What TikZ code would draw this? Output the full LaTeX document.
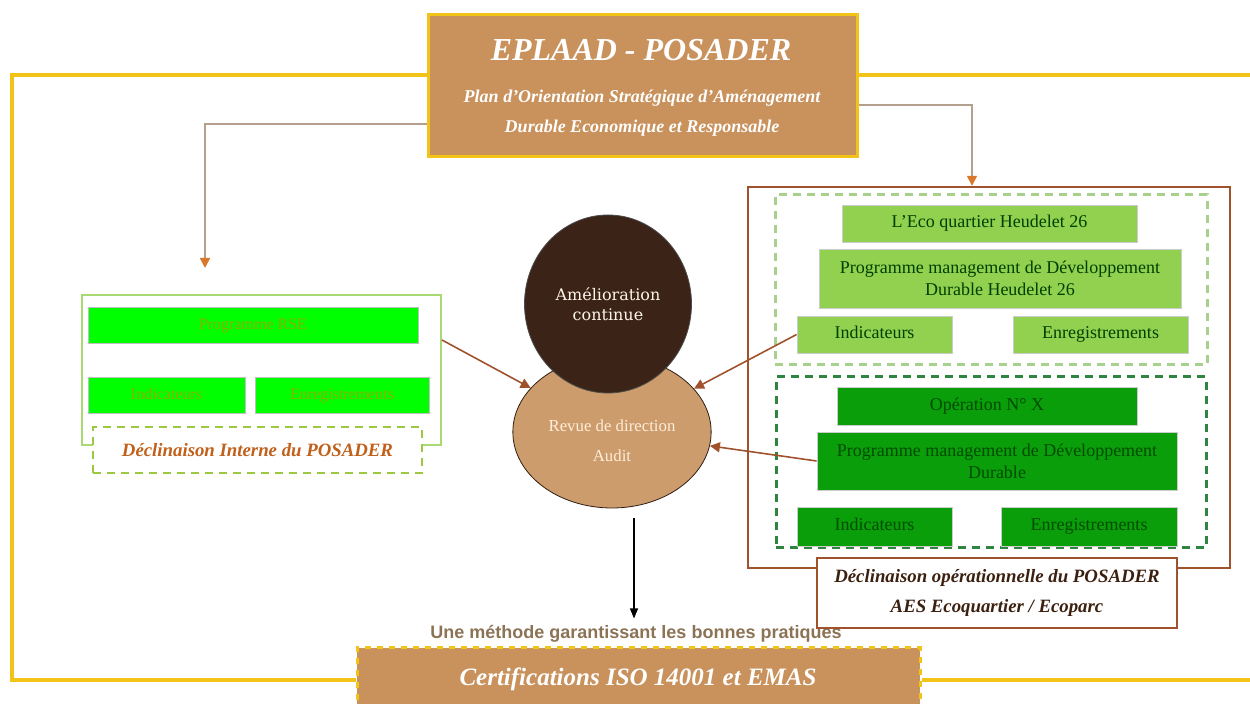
\documentclass[tikz,border=0pt]{standalone}
\usepackage{fontspec}
\setmainfont{Liberation Serif}
\newfontfamily\narrowfont{Liberation Sans}
\newfontfamily\slabfont{DejaVu Serif}
\usetikzlibrary{positioning,arrows.meta,shapes.geometric,backgrounds}
\definecolor{wood}{HTML}{C9915B}
\definecolor{woodlight}{HTML}{CC9C6C}
\definecolor{wooddark}{HTML}{3B2417}
\definecolor{goldline}{HTML}{F2C417}
\definecolor{linkgray}{HTML}{B3A08F}
\definecolor{tiporange}{HTML}{D9772A}
\definecolor{rustline}{HTML}{A0522D}
\definecolor{brightgreen}{HTML}{00FF00}
\definecolor{palegreen}{HTML}{92D050}
\definecolor{deepgreen}{HTML}{0A9E0A}
\definecolor{paledash}{HTML}{A9D18E}
\definecolor{deepdash}{HTML}{2E8540}
\definecolor{olivetext}{HTML}{8DB000}
\definecolor{labelorange}{HTML}{C0601A}
\definecolor{labelbrown}{HTML}{3B2010}
\definecolor{methodbrown}{HTML}{8C7355}
\tikzset{
  frameline/.style={goldline, line width=2pt},
  linkarrow/.style={linkgray, line width=0.8pt, -{Triangle[length=5pt,width=5pt,color=tiporange]}},
  feedarrow/.style={rustline, line width=0.8pt, -{Triangle[length=5pt,width=5pt]}},
  downarrow/.style={black, line width=0.6pt, -{Triangle[length=5pt,width=4pt]}},
  woodbox/.style={draw=goldline, line width=1.5pt, fill=wood},
  whitetext/.style={text=white, font=\bfseries\itshape},
  oneline/.style={text height=6.5pt, text depth=2pt},
  rsebox/.style={draw=black!25, fill=brightgreen, text=olivetext, inner sep=0pt, oneline, font=\fontsize{8}{9}\selectfont},
  ecobox/.style={draw=black!20, fill=palegreen, text=black!75!green, inner sep=0pt, align=center, font=\fontsize{9}{11}\selectfont},
  opbox/.style={draw=black!20, fill=deepgreen, text=green!30!black, inner sep=0pt, align=center, font=\fontsize{9}{11}\selectfont},
  zonebox/.style={dashed, line width=1.5pt, dash pattern=on 4pt off 3pt, inner sep=0pt},
  labelbox/.style={fill=white, inner sep=0pt, align=center, font=\fontsize{9.4}{11}\selectfont\bfseries\itshape}
}
\begin{document}
\begin{tikzpicture}[x=0.5pt, y=-0.5pt, >=Latex]
  \useasboundingbox (0,0) rectangle (1250,704);
  \coordinate (frameTL) at (12,75);
  \coordinate (frameBL) at (12,680);
  \coordinate (frameTR) at (1250,75);
  \coordinate (frameBR) at (1250,680);
  \coordinate (leftend) at (205,268);

  % title and certification
  \node[woodbox, minimum width=214.5pt, minimum height=71pt] (eplaad) at (642.5,86) {};
  \node[woodbox, dashed, minimum width=281.5pt, minimum height=32pt] (certif) at (638.5,680) {};
  \begin{scope}[on background layer]
    \draw[frameline] (eplaad.west |- frameTL) -- (frameTL) -- (frameBL) -- (certif.west |- frameBL);
    \draw[frameline] (eplaad.east |- frameTR) -- (frameTR);
    \draw[frameline] (certif.east |- frameBR) -- (frameBR);
  \end{scope}
  \node[whitetext, font=\fontsize{16}{18}\selectfont\bfseries\itshape] (eplaadname) at (641,50) {EPLAAD - POSADER};
  \node[whitetext, align=center, font=\fontsize{9}{11}\selectfont\bfseries\itshape] (eplaadsub) at (642,113)
    {Plan d'Orientation Stratégique d'Aménagement\\[4pt]Durable Economique et Responsable};
  \node[whitetext, font=\fontsize{12.5}{14}\selectfont\bfseries\itshape] (certifname) at (638,679) {Certifications ISO 14001 et EMAS};
  \node[text=methodbrown, font=\fontsize{9}{11}\selectfont\narrowfont\bfseries] (methode) at (636,634)
    {Une méthode garantissant les bonnes pratiques};

  % internal side
  \node[draw=palegreen!80!white, line width=1pt, minimum width=179.5pt, minimum height=75pt] (lcont) at (261.5,370) {};
  \node[rsebox, minimum width=165pt, minimum height=18pt] (prse) at (253,325) {Programme RSE};
  \node[rsebox, minimum width=78.5pt, minimum height=18pt] (lind) at (166.5,395) {Indicateurs};
  \node[rsebox, minimum width=87pt, minimum height=18pt] (lenr) at (342,395) {Enregistrements};
  \node[labelbox, zonebox, draw=yellow!60!green!80!gray, line width=1pt, text=labelorange,
        minimum width=164.5pt, minimum height=23pt] (linterne) at (257.5,450) {Déclinaison Interne du POSADER};

  % operational side
  \node[draw=rustline, line width=1.2pt, minimum width=241pt, minimum height=190.5pt] (opframe) at (989,377.5) {};
  \node[zonebox, draw=paledash, minimum width=216pt, minimum height=85pt] (ecozone) at (991,280) {};
  \node[zonebox, draw=deepdash, minimum width=215pt, minimum height=85.5pt] (opzone) at (991,462.5) {};
  \node[ecobox, oneline, minimum width=147.5pt, minimum height=18.5pt] (ecoq) at (989.5,223.5) {L'Eco quartier Heudelet 26};
  \node[ecobox, minimum width=181pt, minimum height=29.5pt] (ecoprog) at (1000,278.5)
    {Programme management de Développement\\Durable Heudelet 26};
  \node[ecobox, oneline, minimum width=77.5pt, minimum height=18.5pt] (ecoind) at (874.5,334.5) {Indicateurs};
  \node[ecobox, oneline, minimum width=87.5pt, minimum height=18.5pt] (ecoenr) at (1100.5,334.5) {Enregistrements};
  \node[opbox, oneline, minimum width=150pt, minimum height=19pt] (opx) at (987,406) {Opération N° X};
  \node[opbox, minimum width=180pt, minimum height=29pt] (opprog) at (997,461)
    {Programme management de Développement\\Durable};
  \node[opbox, oneline, minimum width=77.5pt, minimum height=19.5pt] (opind) at (874.5,526.5) {Indicateurs};
  \node[opbox, oneline, minimum width=88pt, minimum height=19.5pt] (openr) at (1089,526.5) {Enregistrements};
  \node[labelbox, draw=rustline, line width=1.2pt, text=labelbrown, minimum width=180pt, minimum height=35pt] (declop) at (997,593)
    {Déclinaison opérationnelle du POSADER\\[4pt]AES Ecoquartier / Ecoparc};

  % centre
  \node[ellipse, draw=wooddark!80!black, fill=woodlight, minimum width=90pt, minimum height=76pt,
        align=center, text=orange!15!white, font=\fontsize{8.4}{10}\selectfont] (revue) at (612,432)
    {\\[5pt]Revue de direction\\[5pt]Audit};
  \node[ellipse, draw=black!70, fill=wooddark, minimum width=57pt, minimum height=89pt,
        align=center, text=orange!8!white, font=\fontsize{8}{10}\selectfont\slabfont] (amelio) at (608,304)
    {Amélioration\\continue};

  % links
  \draw[linkarrow] ([yshift=-19pt]eplaad.west) -| (leftend);
  \draw[linkarrow] ([yshift=-9.5pt]eplaad.east) -| ([xshift=-8.5pt]opframe.north);
  \draw[feedarrow] ([yshift=15pt]lcont.east) -- (revue);
  \draw[feedarrow] (ecoind.west) -- (revue);
  \draw[feedarrow] (opprog.west) -- (revue);
  \draw[downarrow] ([xshift=11pt,yshift=-5pt]revue.south) -- ([xshift=11pt]revue.south |- methode.north);
\end{tikzpicture}
\end{document}
